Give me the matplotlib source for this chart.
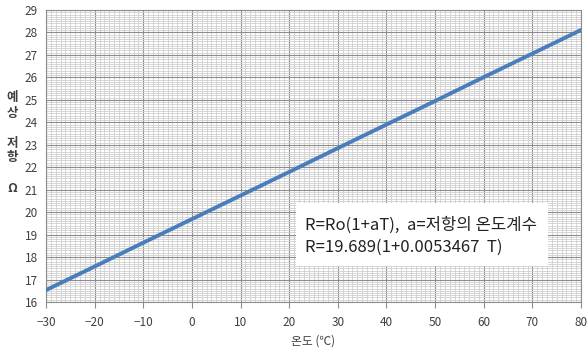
import matplotlib
matplotlib.use("Agg")
import matplotlib.pyplot as plt
from matplotlib.ticker import MultipleLocator
from matplotlib.patches import Rectangle

plt.rcParams['font.family'] = ['Noto Sans CJK KR', 'DejaVu Sans']

# temperature (C) vs expected resistance (ohm)
temps = [-30, -20, -10, 0, 10, 20, 30, 40, 50, 60, 70, 80]
resist = [16.53, 17.58, 18.64, 19.69, 20.74, 21.79, 22.85, 23.90, 24.95, 26.01, 27.06, 28.11]

xlabel = "온도 (℃)"
ylabel_chars = ["예", "상", "저", "항", "Ω"]
note_lines = ["R=Ro(1+aT),  a=저항의 온도계수", "R=19.689(1+0.0053467  T)"]

W, H = 587, 349
fig = plt.figure(figsize=(W / 100, H / 100), dpi=100)
ax = fig.add_axes([0.0784, 0.1347, 0.9114, 0.8366])

ax.set_xlim(-30, 80)
ax.set_ylim(16, 29)
ax.xaxis.set_major_locator(MultipleLocator(10))
ax.xaxis.set_minor_locator(MultipleLocator(1))
ax.yaxis.set_major_locator(MultipleLocator(1))
ax.yaxis.set_minor_locator(MultipleLocator(0.1))

ax.grid(which="minor", color="#cfcfcf", linewidth=0.6)
ax.grid(which="major", color="#8c8c8c", linewidth=0.8)
ax.set_axisbelow(True)

for s in ax.spines.values():
    s.set_color("#8c8c8c")
    s.set_linewidth(0.8)

ax.tick_params(which="minor", length=0)
ax.tick_params(axis="y", which="major", length=0, labelsize=8.5, colors="#404040", pad=6)
ax.tick_params(axis="x", which="major", length=4, color="#8c8c8c", labelsize=8.5,
               labelcolor="#404040", pad=6)

ax.plot(temps, resist, color="#4a7ebb", linewidth=2.8, zorder=3)

ax.set_xlabel(xlabel, fontsize=8.5, color="#404040", labelpad=4)

ys = [98, 113, 143, 158, 189]
for ch, yp in zip(ylabel_chars, ys):
    fig.text(12 / W, 1 - yp / H, ch, fontsize=9, fontweight="bold",
             color="#404040", ha="center", va="center")

# white note box
fig.patches.append(Rectangle((296 / W, 1 - 266 / H), 252 / W, 63 / H,
                             transform=fig.transFigure, facecolor="white",
                             edgecolor="none", zorder=4))
fig.text(305 / W, 1 - 225 / H, note_lines[0], fontsize=12, color="#222222",
         va="center", ha="left", zorder=5)
fig.text(305 / W, 1 - 247 / H, note_lines[1], fontsize=12, color="#222222",
         va="center", ha="left", zorder=5)

fig.savefig("out.png", dpi=100)
